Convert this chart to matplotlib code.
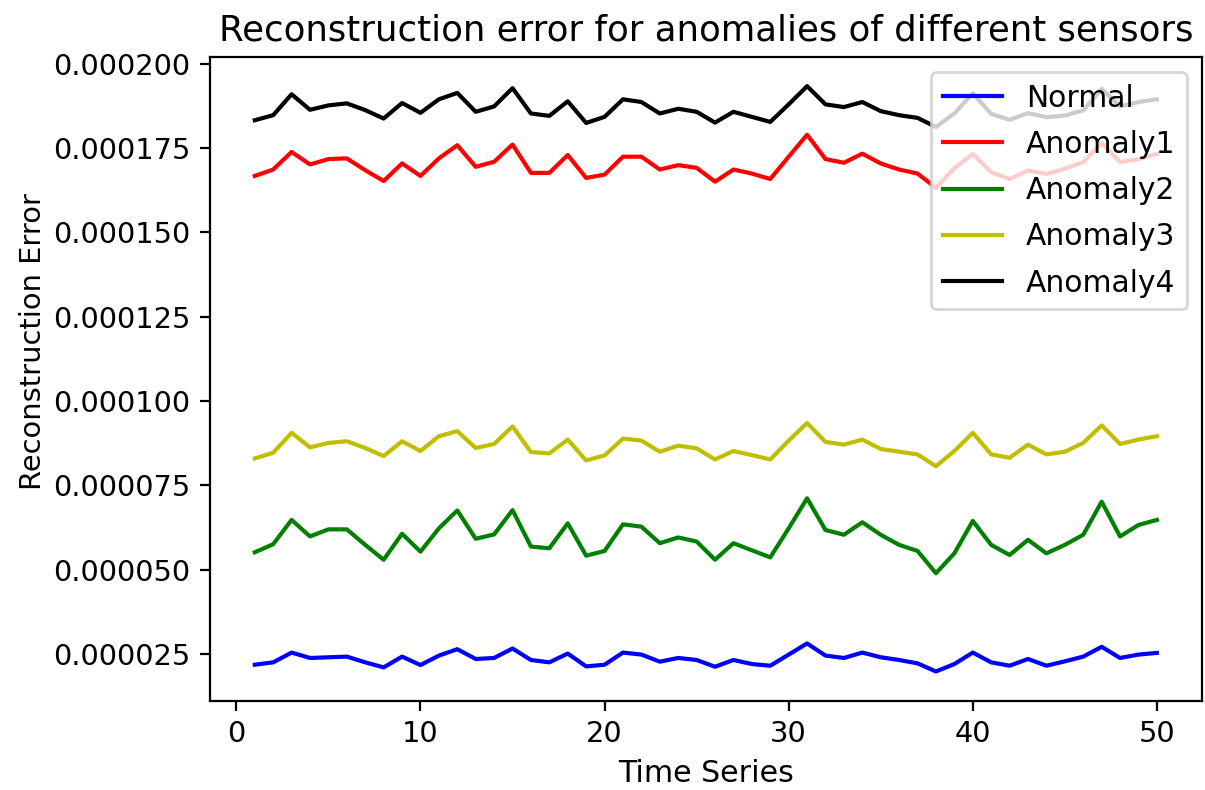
import numpy as np
import matplotlib
matplotlib.use('Agg')
import matplotlib.pyplot as plt
from matplotlib.ticker import FormatStrFormatter

# Datos (en unidades de 1e-6)
time_steps = np.arange(1, 51)

normal = [21.9, 22.6, 25.5, 23.9, 24.1, 24.3, 22.6, 21.1, 24.3, 21.8,
          24.6, 26.5, 23.6, 23.9, 26.7, 23.3, 22.6, 25.2, 21.4, 21.9,
          25.5, 24.9, 22.8, 23.9, 23.3, 21.3, 23.3, 22.1, 21.6, 24.9,
          28.2, 24.6, 23.9, 25.5, 24.1, 23.3, 22.3, 19.9, 22.1, 25.5,
          22.6, 21.6, 23.6, 21.6, 22.9, 24.3, 27.2, 23.9, 24.9, 25.4]

anomaly1 = [166.7, 168.6, 173.8, 170.1, 171.7, 171.9, 168.4, 165.2, 170.4, 166.7,
            171.9, 175.8, 169.4, 170.9, 176.0, 167.6, 167.6, 172.9, 166.1, 167.1,
            172.4, 172.4, 168.6, 169.9, 169.1, 165.0, 168.6, 167.4, 165.8, 172.4,
            178.9, 171.7, 170.6, 173.3, 170.4, 168.6, 167.4, 163.2, 169.0, 173.2,
            167.8, 165.8, 168.3, 167.3, 168.8, 170.8, 176.5, 170.8, 171.7, 173.2]

anomaly2 = [55.2, 57.6, 64.8, 59.9, 62.0, 62.0, 57.4, 53.0, 60.7, 55.4,
            62.3, 67.6, 59.2, 60.5, 67.7, 56.9, 56.4, 63.8, 54.2, 55.6,
            63.5, 62.8, 57.9, 59.6, 58.4, 53.0, 57.9, 55.8, 53.7, 62.3,
            71.2, 61.8, 60.4, 64.1, 60.4, 57.4, 55.6, 49.0, 54.9, 64.5,
            57.4, 54.4, 58.9, 54.9, 57.4, 60.4, 70.2, 59.9, 63.3, 64.8]

anomaly3 = [83.0, 84.7, 90.6, 86.3, 87.6, 88.1, 86.1, 83.7, 88.1, 85.2,
            89.6, 91.1, 86.1, 87.3, 92.5, 84.9, 84.5, 88.6, 82.4, 83.9,
            88.9, 88.3, 85.0, 86.8, 86.0, 82.7, 85.2, 84.0, 82.7, 88.3,
            93.5, 87.9, 87.1, 88.6, 85.8, 85.0, 84.2, 80.7, 85.2, 90.6,
            84.2, 83.2, 87.1, 84.2, 85.0, 87.6, 92.8, 87.3, 88.6, 89.6]

anomaly4 = [183.2, 184.7, 190.9, 186.3, 187.6, 188.2, 186.2, 183.7, 188.3, 185.4,
            189.4, 191.3, 185.7, 187.3, 192.7, 185.2, 184.5, 188.8, 182.4, 184.2,
            189.4, 188.6, 185.2, 186.6, 185.7, 182.5, 185.7, 184.2, 182.7, 187.9,
            193.3, 187.9, 187.1, 188.6, 185.9, 184.7, 183.9, 181.2, 185.2, 191.2,
            185.1, 183.3, 185.3, 184.1, 184.6, 186.1, 192.5, 187.3, 188.6, 189.4]

series = [('Normal', normal, 'b'),
          ('Anomaly1', anomaly1, 'r'),
          ('Anomaly2', anomaly2, 'g'),
          ('Anomaly3', anomaly3, 'y'),
          ('Anomaly4', anomaly4, 'k')]

fig = plt.figure(figsize=(6.025, 3.95), dpi=200)
ax = fig.add_axes([0.174, 0.113, 0.8235, 0.815])

for label, values, color in series:
    ax.plot(time_steps, np.array(values) * 1e-6, color=color, label=label)

ax.yaxis.set_major_formatter(FormatStrFormatter('%.6f'))
ax.tick_params(labelsize=10.4)
ax.set_title('Reconstruction error for anomalies of different sensors', fontsize=12.8)
ax.set_xlabel('Time Series', fontsize=10.8)
ax.set_ylabel('Reconstruction Error', fontsize=10.4)
ax.yaxis.set_label_coords(-0.164, 0.558)
ax.legend(loc='upper right', fontsize=10.7, labelspacing=0.58)

fig.savefig('out.png', dpi=200)
